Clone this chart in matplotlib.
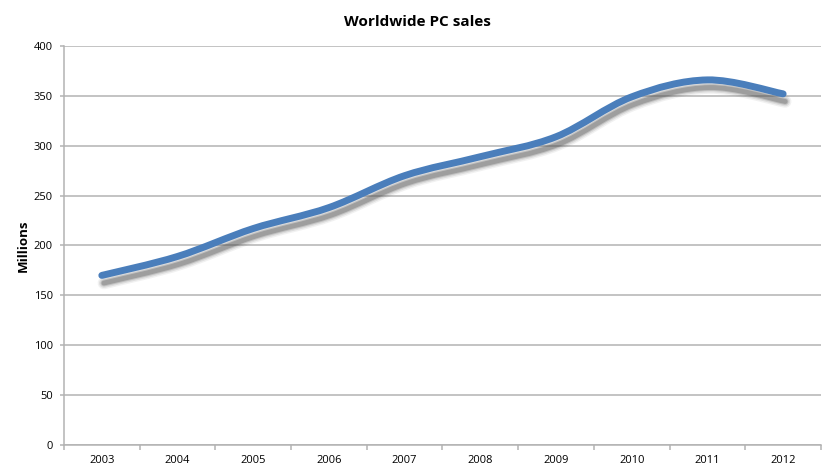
import numpy as np
import matplotlib
matplotlib.use('Agg')
import matplotlib.pyplot as plt
from matplotlib.path import Path
from matplotlib.patches import PathPatch
import matplotlib.transforms as mtransforms

years = ['2003', '2004', '2005', '2006', '2007', '2008', '2009', '2010', '2011', '2012']
sales = [170, 189, 217, 238, 270, 289, 309, 349, 366, 352]

plt.rcParams['font.family'] = ['Open Sans', 'DejaVu Sans']

fig = plt.figure(figsize=(8.34, 4.74), dpi=100)
ax = fig.add_axes([0.0767, 0.0612, 0.9077, 0.8418])

# smoothed line (catmull-rom style, like the spreadsheet's smoothed line)
x = np.arange(len(sales), dtype=float)
y = np.array(sales, dtype=float)
pts = np.column_stack([x, y])
verts = [pts[0]]
codes = [Path.MOVETO]
n = len(pts)
for i in range(n - 1):
    p0 = pts[max(i - 1, 0)]
    p1 = pts[i]
    p2 = pts[i + 1]
    p3 = pts[min(i + 2, n - 1)]
    c1 = p1 + (p2 - p0) / 6.0
    c2 = p2 - (p3 - p1) / 6.0
    verts += [c1, c2, p2]
    codes += [Path.CURVE4] * 3
path = Path(verts, codes)

# blurred drop shadow
for lw, a in [(9, 0.08), (7, 0.12), (5, 0.2), (3.5, 0.3)]:
    tr = mtransforms.offset_copy(ax.transData, fig=fig, x=1.5, y=-5.5, units='points')
    ax.add_patch(PathPatch(path, transform=tr, fill=False, edgecolor='#505050',
                           alpha=a, lw=lw, capstyle='round', joinstyle='round', zorder=2))

ax.add_patch(PathPatch(path, fill=False, edgecolor='#4a7ebb', lw=5,
                       capstyle='round', joinstyle='round', zorder=3))

ax.set_xlim(-0.5, len(years) - 0.5)
ax.set_ylim(0, 400)
ax.set_yticks(np.arange(0, 401, 50))
ax.set_xticks(np.arange(-0.5, len(years), 1.0))
ax.set_xticklabels([])
ax.set_xticks(x, minor=True)
ax.set_xticklabels(years, minor=True)

ax.yaxis.grid(True, color='#b3b3b3', lw=1.1)
ax.set_axisbelow(True)
for s in ['top', 'right']:
    ax.spines[s].set_visible(False)
for s in ['left', 'bottom']:
    ax.spines[s].set_color('#b3b3b3')
    ax.spines[s].set_linewidth(1.1)

ax.tick_params(axis='y', which='major', length=3, width=1.1, color='#b3b3b3',
               labelsize=8, pad=5)
ax.tick_params(axis='x', which='major', length=3.5, width=1.1, color='#b3b3b3')
ax.tick_params(axis='x', which='minor', length=0, labelsize=8, pad=7)

fig.text(0.5, 0.953, 'Worldwide PC sales', ha='center', va='center',
         fontsize=11, fontweight='bold')
ax.set_ylabel('Millions', fontsize=9.5, fontweight='bold', labelpad=3)

fig.savefig('out.png', dpi=100)
